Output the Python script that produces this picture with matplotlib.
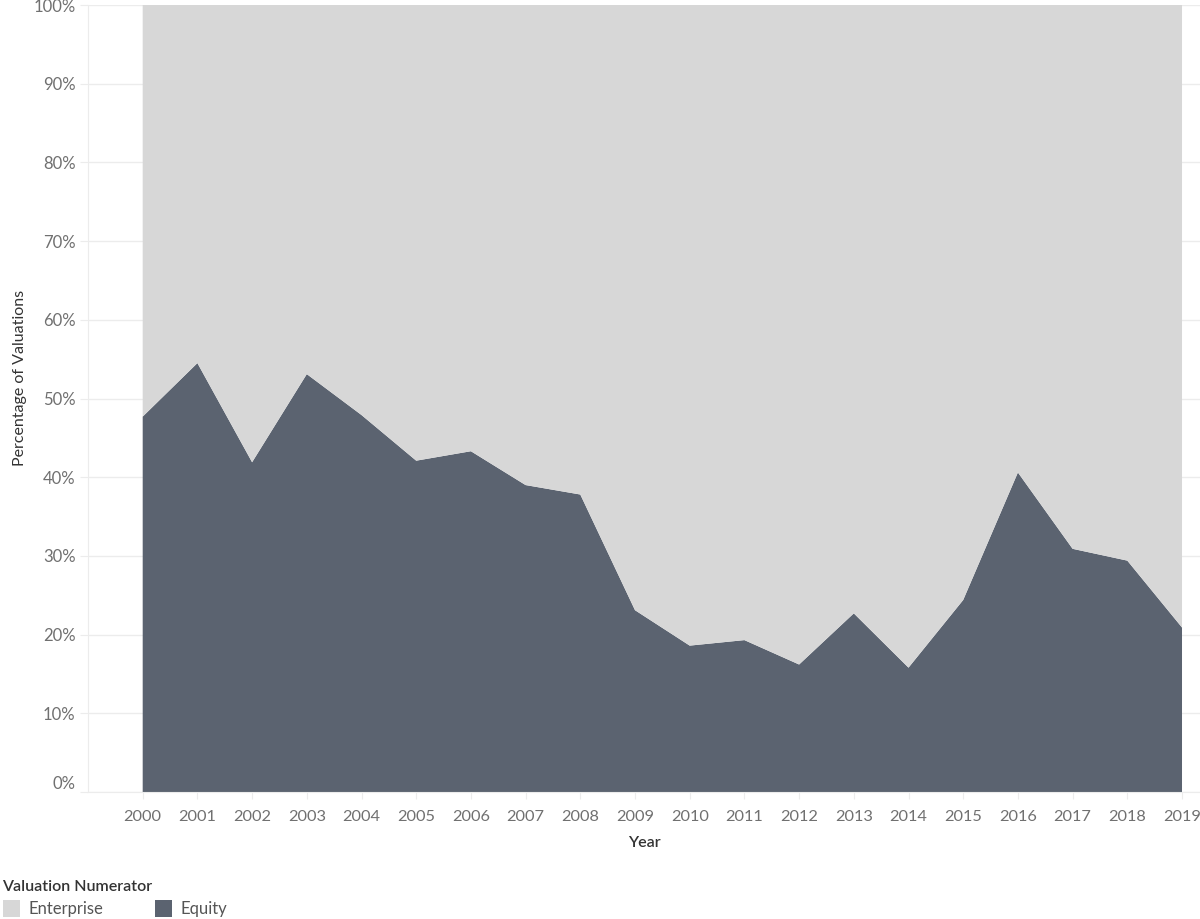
import matplotlib
matplotlib.use("Agg")
import matplotlib.pyplot as plt
from matplotlib.patches import Rectangle

years = [2000, 2001, 2002, 2003, 2004, 2005, 2006, 2007, 2008, 2009,
         2010, 2011, 2012, 2013, 2014, 2015, 2016, 2017, 2018, 2019]
equity = [47.7, 54.5, 41.9, 53.1, 47.9, 42.1, 43.3, 39.0, 37.8, 23.1,
          18.6, 19.3, 16.2, 22.7, 15.8, 24.4, 40.6, 30.9, 29.4, 20.9]
enterprise = [52.3, 45.5, 58.1, 46.9, 52.1, 57.9, 56.7, 61.0, 62.2, 76.9,
              81.4, 80.7, 83.8, 77.3, 84.2, 75.6, 59.4, 69.1, 70.6, 79.1]
series_names = ["Enterprise", "Equity"]
colors = {"Enterprise": "#d7d7d7", "Equity": "#5b6370"}
yticks = [0, 10, 20, 30, 40, 50, 60, 70, 80, 90, 100]

plt.rcParams['font.family'] = ['Lato', 'DejaVu Sans']

W, H = 1200, 919
fig = plt.figure(figsize=(W / 100, H / 100), dpi=100)
ax = fig.add_axes([88 / W, (H - 792) / H, (W - 88) / W, (792 - 5) / H])

ax.stackplot(years, equity, enterprise,
             colors=[colors["Equity"], colors["Enterprise"]], linewidth=0, zorder=2)

ax.set_xlim(1999, 2019 + 18 / 54.74)
ax.set_ylim(0, 100)
ax.set_yticks(yticks)
ax.set_yticklabels([f"{t}%" for t in yticks])
ax.set_xticks(years)
ax.set_xticklabels([str(y) for y in years])

grid_c = "#ececec"
ax.grid(axis='y', color=grid_c, linewidth=1, zorder=0)
ax.set_axisbelow(True)
for s in ['top', 'right']:
    ax.spines[s].set_visible(False)
ax.spines['left'].set_color(grid_c)
ax.spines['bottom'].set_color(grid_c)
ax.spines['left'].set_zorder(3)
ax.spines['bottom'].set_zorder(3)

ax.tick_params(axis='y', length=6, color=grid_c, pad=3, labelsize=12,
               labelcolor="#707070")
ax.tick_params(axis='x', length=5, color=grid_c, pad=8, labelsize=11.8,
               labelcolor="#707070")

labs = ax.get_yticklabels()
labs[0].set_va('bottom')

fig.text(20 / W, 1 - 378 / H, "Percentage of Valuations", rotation=90,
         ha='center', va='center', fontsize=11.5, color="#333333")
fig.text((88 + 1200) / 2 / W, 1 - 843 / H, "Year", ha='center', va='center',
         fontsize=11.5, color="#333333", fontweight='semibold')

# legend
fig.text(2 / W, 1 - 887 / H, "Valuation Numerator", ha='left', va='center',
         fontsize=11.5, color="#333333", fontweight='semibold')
for name, xs, xt in [("Enterprise", 3, 28), ("Equity", 155, 180)]:
    fig.patches.append(Rectangle((xs / W, 1 - 917 / H), 17 / W, 17 / H,
                                 transform=fig.transFigure, facecolor=colors[name],
                                 edgecolor='none'))
    fig.text(xt / W, 1 - 909 / H, name, ha='left', va='center', fontsize=12,
             color="#555555")

fig.savefig("out.png", dpi=100)
